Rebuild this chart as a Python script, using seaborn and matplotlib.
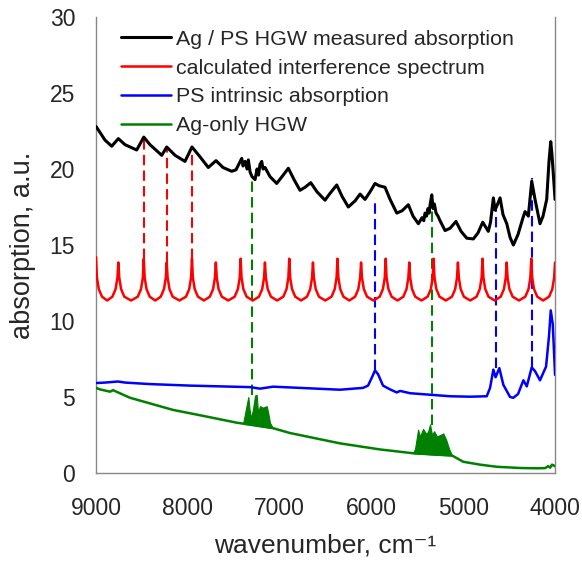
import numpy as np
import pandas as pd
import seaborn as sns
import matplotlib.pyplot as plt

# measured Ag / PS HGW absorption (black)
black_wn = [9000, 8956, 8902, 8829, 8757, 8684, 8557, 8480, 8412, 8284, 8230, 8139, 8031,
            7955, 7867, 7777, 7693, 7617, 7522, 7475, 7413, 7399, 7377, 7355, 7341, 7322,
            7301, 7268, 7246, 7230, 7214, 7195, 7181, 7159, 7105, 7032, 6974, 6905, 6843,
            6778, 6723, 6661, 6593, 6506, 6451, 6378, 6320, 6252, 6179, 6124, 6070, 6015,
            5961, 5917, 5852, 5797, 5724, 5667, 5598, 5547, 5489, 5449, 5430, 5416, 5400,
            5384, 5372, 5362, 5343, 5329, 5315, 5296, 5275, 5253, 5198, 5144, 5079, 5024,
            4962, 4890, 4839, 4788, 4727, 4703, 4672, 4654, 4632, 4599, 4567, 4526, 4490,
            4454, 4403, 4349, 4327, 4291, 4254, 4218, 4164, 4131, 4091, 4066, 4047, 4033,
            4017, 4000]
black_val = [22.8, 22.4, 21.9, 21.5, 22.0, 21.6, 21.25, 22.1, 21.6, 20.9, 21.45, 20.9, 20.5,
             21.45, 20.8, 20.1, 20.55, 20.1, 19.85, 19.95, 20.7, 20.2, 20.5, 20.0, 20.6, 19.8,
             19.5, 19.3, 20.0, 19.6, 20.3, 20.5, 20.0, 20.1, 19.5, 19.05, 19.5, 20.05, 19.3,
             18.6, 18.8, 19.1, 18.5, 17.95, 18.4, 18.95, 18.2, 17.5, 17.9, 18.35, 18.0, 18.5,
             19.05, 18.9, 18.8, 18.0, 17.1, 17.25, 17.65, 16.9, 16.4, 16.8, 16.6, 17.1, 16.9,
             17.4, 17.1, 17.6, 18.3, 17.4, 17.7, 17.1, 16.9, 16.6, 15.95, 16.1, 16.55, 15.9,
             15.45, 15.4, 15.8, 16.5, 15.9, 16.5, 18.1, 17.3, 17.6, 18.1, 17.0, 16.4, 15.5,
             15.0, 15.7, 16.8, 17.2, 16.9, 19.2, 18.0, 16.4, 16.9, 18.0, 20.5, 21.8, 20.9,
             19.5, 18.0]

# calculated interference spectrum (red), one row per fringe
red_wn = [9000, 8990, 8970, 8935, 8878, 8822, 8787, 8767,
          8757, 8747, 8727, 8692, 8618, 8545, 8510, 8490,
          8480, 8470, 8450, 8415, 8355, 8295, 8260, 8240,
          8230, 8220, 8200, 8165, 8092, 8020, 7985, 7965,
          7955, 7945, 7925, 7890, 7825, 7760, 7725, 7705,
          7695, 7685, 7665, 7630, 7560, 7490, 7455, 7435,
          7425, 7415, 7395, 7360, 7292, 7225, 7190, 7170,
          7160, 7150, 7130, 7095, 7027, 6960, 6925, 6905,
          6895, 6885, 6865, 6830, 6766, 6702, 6667, 6647,
          6637, 6627, 6607, 6572, 6503, 6435, 6400, 6380,
          6370, 6360, 6340, 6305, 6241, 6178, 6143, 6123,
          6113, 6103, 6083, 6048, 5979, 5910, 5875, 5855,
          5845, 5835, 5815, 5780, 5716, 5653, 5618, 5598,
          5588, 5578, 5558, 5523, 5455, 5388, 5353, 5333,
          5323, 5313, 5293, 5258, 5190, 5123, 5088, 5068,
          5058, 5048, 5028, 4993, 4924, 4855, 4820, 4800,
          4790, 4780, 4760, 4725, 4658, 4592, 4557, 4537,
          4527, 4517, 4497, 4462, 4393, 4324, 4289, 4269,
          4259, 4249, 4229, 4194, 4130, 4065, 4030, 4010,
          4000]
red_val = [14.2, 12.85, 12.1, 11.6, 11.35, 11.6, 12.1, 12.85,
           13.85, 12.85, 12.1, 11.6, 11.35, 11.6, 12.1, 12.85,
           14.1, 12.85, 12.1, 11.6, 11.35, 11.6, 12.1, 12.85,
           13.85, 12.85, 12.1, 11.6, 11.35, 11.6, 12.1, 12.85,
           14.1, 12.85, 12.1, 11.6, 11.35, 11.6, 12.1, 12.85,
           13.85, 12.85, 12.1, 11.6, 11.35, 11.6, 12.1, 12.85,
           14.1, 12.85, 12.1, 11.6, 11.35, 11.6, 12.1, 12.85,
           13.85, 12.85, 12.1, 11.6, 11.35, 11.6, 12.1, 12.85,
           14.1, 12.85, 12.1, 11.6, 11.35, 11.6, 12.1, 12.85,
           13.85, 12.85, 12.1, 11.6, 11.35, 11.6, 12.1, 12.85,
           14.1, 12.85, 12.1, 11.6, 11.35, 11.6, 12.1, 12.85,
           13.85, 12.85, 12.1, 11.6, 11.35, 11.6, 12.1, 12.85,
           14.1, 12.85, 12.1, 11.6, 11.35, 11.6, 12.1, 12.85,
           13.85, 12.85, 12.1, 11.6, 11.35, 11.6, 12.1, 12.85,
           14.1, 12.85, 12.1, 11.6, 11.35, 11.6, 12.1, 12.85,
           13.85, 12.85, 12.1, 11.6, 11.35, 11.6, 12.1, 12.85,
           14.1, 12.85, 12.1, 11.6, 11.35, 11.6, 12.1, 12.85,
           13.85, 12.85, 12.1, 11.6, 11.35, 11.6, 12.1, 12.85,
           14.1, 12.85, 12.1, 11.6, 11.35, 11.6, 12.1, 12.85,
           13.85]

# PS intrinsic absorption (blue)
blue_wn = [9000, 8902, 8760, 8684, 8412, 7976, 7649, 7322, 7214, 7072, 6778, 6342, 6092,
           6037, 5994, 5961, 5928, 5874, 5797, 5724, 5688, 5580, 5362, 5144, 4926, 4744,
           4708, 4672, 4648, 4607, 4563, 4490, 4454, 4403, 4345, 4308, 4254, 4218, 4164,
           4098, 4066, 4047, 4025, 4000]
blue_val = [5.92, 5.95, 6.02, 5.95, 5.85, 5.75, 5.7, 5.65, 5.55, 5.68, 5.6, 5.48, 5.6,
            5.75, 6.3, 6.75, 6.5, 5.75, 5.5, 5.3, 5.4, 5.25, 5.15, 5.05, 5.02, 5.05,
            5.6, 6.8, 6.3, 6.9, 5.8, 5.0, 4.95, 5.2, 6.1, 5.7, 6.95, 6.7, 6.1,
            7.0, 9.0, 10.7, 9.8, 6.45]

# Ag-only HGW (green), baseline plus two noisy bands
green_wn = [9000, 8956, 8847, 8815, 8630, 8161, 7867, 7467, 7399, 7072, 6887, 6342, 5906,
            5547, 5122, 5000, 4817, 4635, 4381, 4200, 4109, 4076, 4054, 4033, 4000]
green_val = [5.6, 5.5, 5.35, 5.45, 4.95, 4.15, 3.8, 3.31, 3.25, 2.95, 2.63, 1.95, 1.55,
             1.3, 1.15, 0.74, 0.55, 0.41, 0.33, 0.31, 0.32, 0.45, 0.35, 0.55, 0.45]
band1_wn = [7399, 7377, 7355, 7341, 7328, 7312, 7290, 7268, 7250, 7236, 7214, 7181, 7141,
            7126, 7105, 7072]
band1_top = [3.25, 3.9, 4.6, 5.0, 4.2, 3.6, 4.2, 5.1, 5.15, 4.0, 4.4, 4.3, 4.4,
             4.0, 3.3, 2.95]
band1_base = [3.25, 3.23, 3.21, 3.2, 3.19, 3.18, 3.16, 3.14, 3.12, 3.11, 3.09, 3.06, 3.02,
              3.0, 2.98, 2.95]
band2_wn = [5547, 5525, 5492, 5471, 5438, 5405, 5384, 5362, 5340, 5318, 5286, 5253, 5217,
            5187, 5155, 5122]
band2_top = [1.3, 1.6, 2.85, 2.4, 2.9, 2.6, 2.7, 3.2, 2.5, 2.75, 2.4, 2.5, 2.6,
             2.2, 1.6, 1.15]
band2_base = [1.3, 1.29, 1.28, 1.27, 1.26, 1.25, 1.24, 1.23, 1.22, 1.21, 1.2, 1.19, 1.18,
              1.17, 1.16, 1.15]

# dashed markers: position, bottom, top
red_mark_wn = [8480, 8230, 7955]
red_mark_lo = [14.1, 13.85, 14.1]
red_mark_hi = [22.0, 21.4, 21.4]
green_mark_wn = [7300, 5345]
green_mark_lo = [5.1, 3.15]
green_mark_hi = [19.3, 17.3]
blue_mark_wn = [5961, 4640, 4250]
blue_mark_lo = [6.8, 6.9, 7.0]
blue_mark_hi = [18.1, 17.3, 19.4]

labels = ["Ag / PS HGW measured absorption", "calculated interference spectrum",
          "PS intrinsic absorption", "Ag-only HGW"]

sns.set_style("white")
plt.rcParams["font.family"] = ["Liberation Sans", "DejaVu Sans"]

fig = plt.figure(figsize=(5.82, 5.69), dpi=100)
ax = fig.add_axes([0.165, 0.1687, 0.7887, 0.8014])

sns.lineplot(x=black_wn, y=black_val, sort=False, estimator=None, color="black",
             lw=2.2, label=labels[0], ax=ax, zorder=5)
sns.lineplot(x=red_wn, y=red_val, sort=False, estimator=None, color="#ff0000",
             lw=1.8, label=labels[1], ax=ax, zorder=4)
sns.lineplot(x=blue_wn, y=blue_val, sort=False, estimator=None, color="#0000ff",
             lw=1.8, label=labels[2], ax=ax, zorder=4)
sns.lineplot(x=green_wn, y=green_val, sort=False, estimator=None, color="#008000",
             lw=1.8, label=labels[3], ax=ax, zorder=4)
ax.fill_between(band1_wn, band1_base, band1_top, color="#008000", lw=0.8, zorder=4)
ax.fill_between(band2_wn, band2_base, band2_top, color="#008000", lw=0.8, zorder=4)

ax.vlines(red_mark_wn, red_mark_lo, red_mark_hi, colors="#ff0000", lw=1.5,
          linestyles=(0, (5, 2.5)), zorder=3)
ax.vlines(green_mark_wn, green_mark_lo, green_mark_hi, colors="#008000", lw=1.5,
          linestyles=(0, (5, 2.5)), zorder=3)
ax.vlines(blue_mark_wn, blue_mark_lo, blue_mark_hi, colors="#0000ff", lw=1.5,
          linestyles=(0, (5, 2.5)), zorder=3)

ax.set_xlim(9000, 4000)
ax.set_ylim(0, 30)
ax.set_xticks([9000, 8000, 7000, 6000, 5000, 4000])
ax.set_yticks([0, 5, 10, 15, 20, 25, 30])
ax.tick_params(axis="both", direction="out", length=6, width=1, color="#888888",
               labelsize=16.5)
ax.tick_params(axis="y", pad=9)
ax.tick_params(axis="x", pad=11)
for side in ["left", "bottom", "right"]:
    ax.spines[side].set_color("#888888")
    ax.spines[side].set_linewidth(1)
ax.spines["top"].set_visible(False)

ax.set_xlabel("wavenumber, cm⁻¹", fontsize=19, labelpad=10)
ax.set_ylabel("absorption, a.u.", fontsize=19.5, labelpad=10)

leg = ax.legend(loc="upper left", bbox_to_anchor=(0.021, 1.005), fontsize=15.4, frameon=False,
                handlelength=2.35, handletextpad=0.25, labelspacing=0.46,
                borderaxespad=0.3)

fig.savefig("out.png", dpi=100)
